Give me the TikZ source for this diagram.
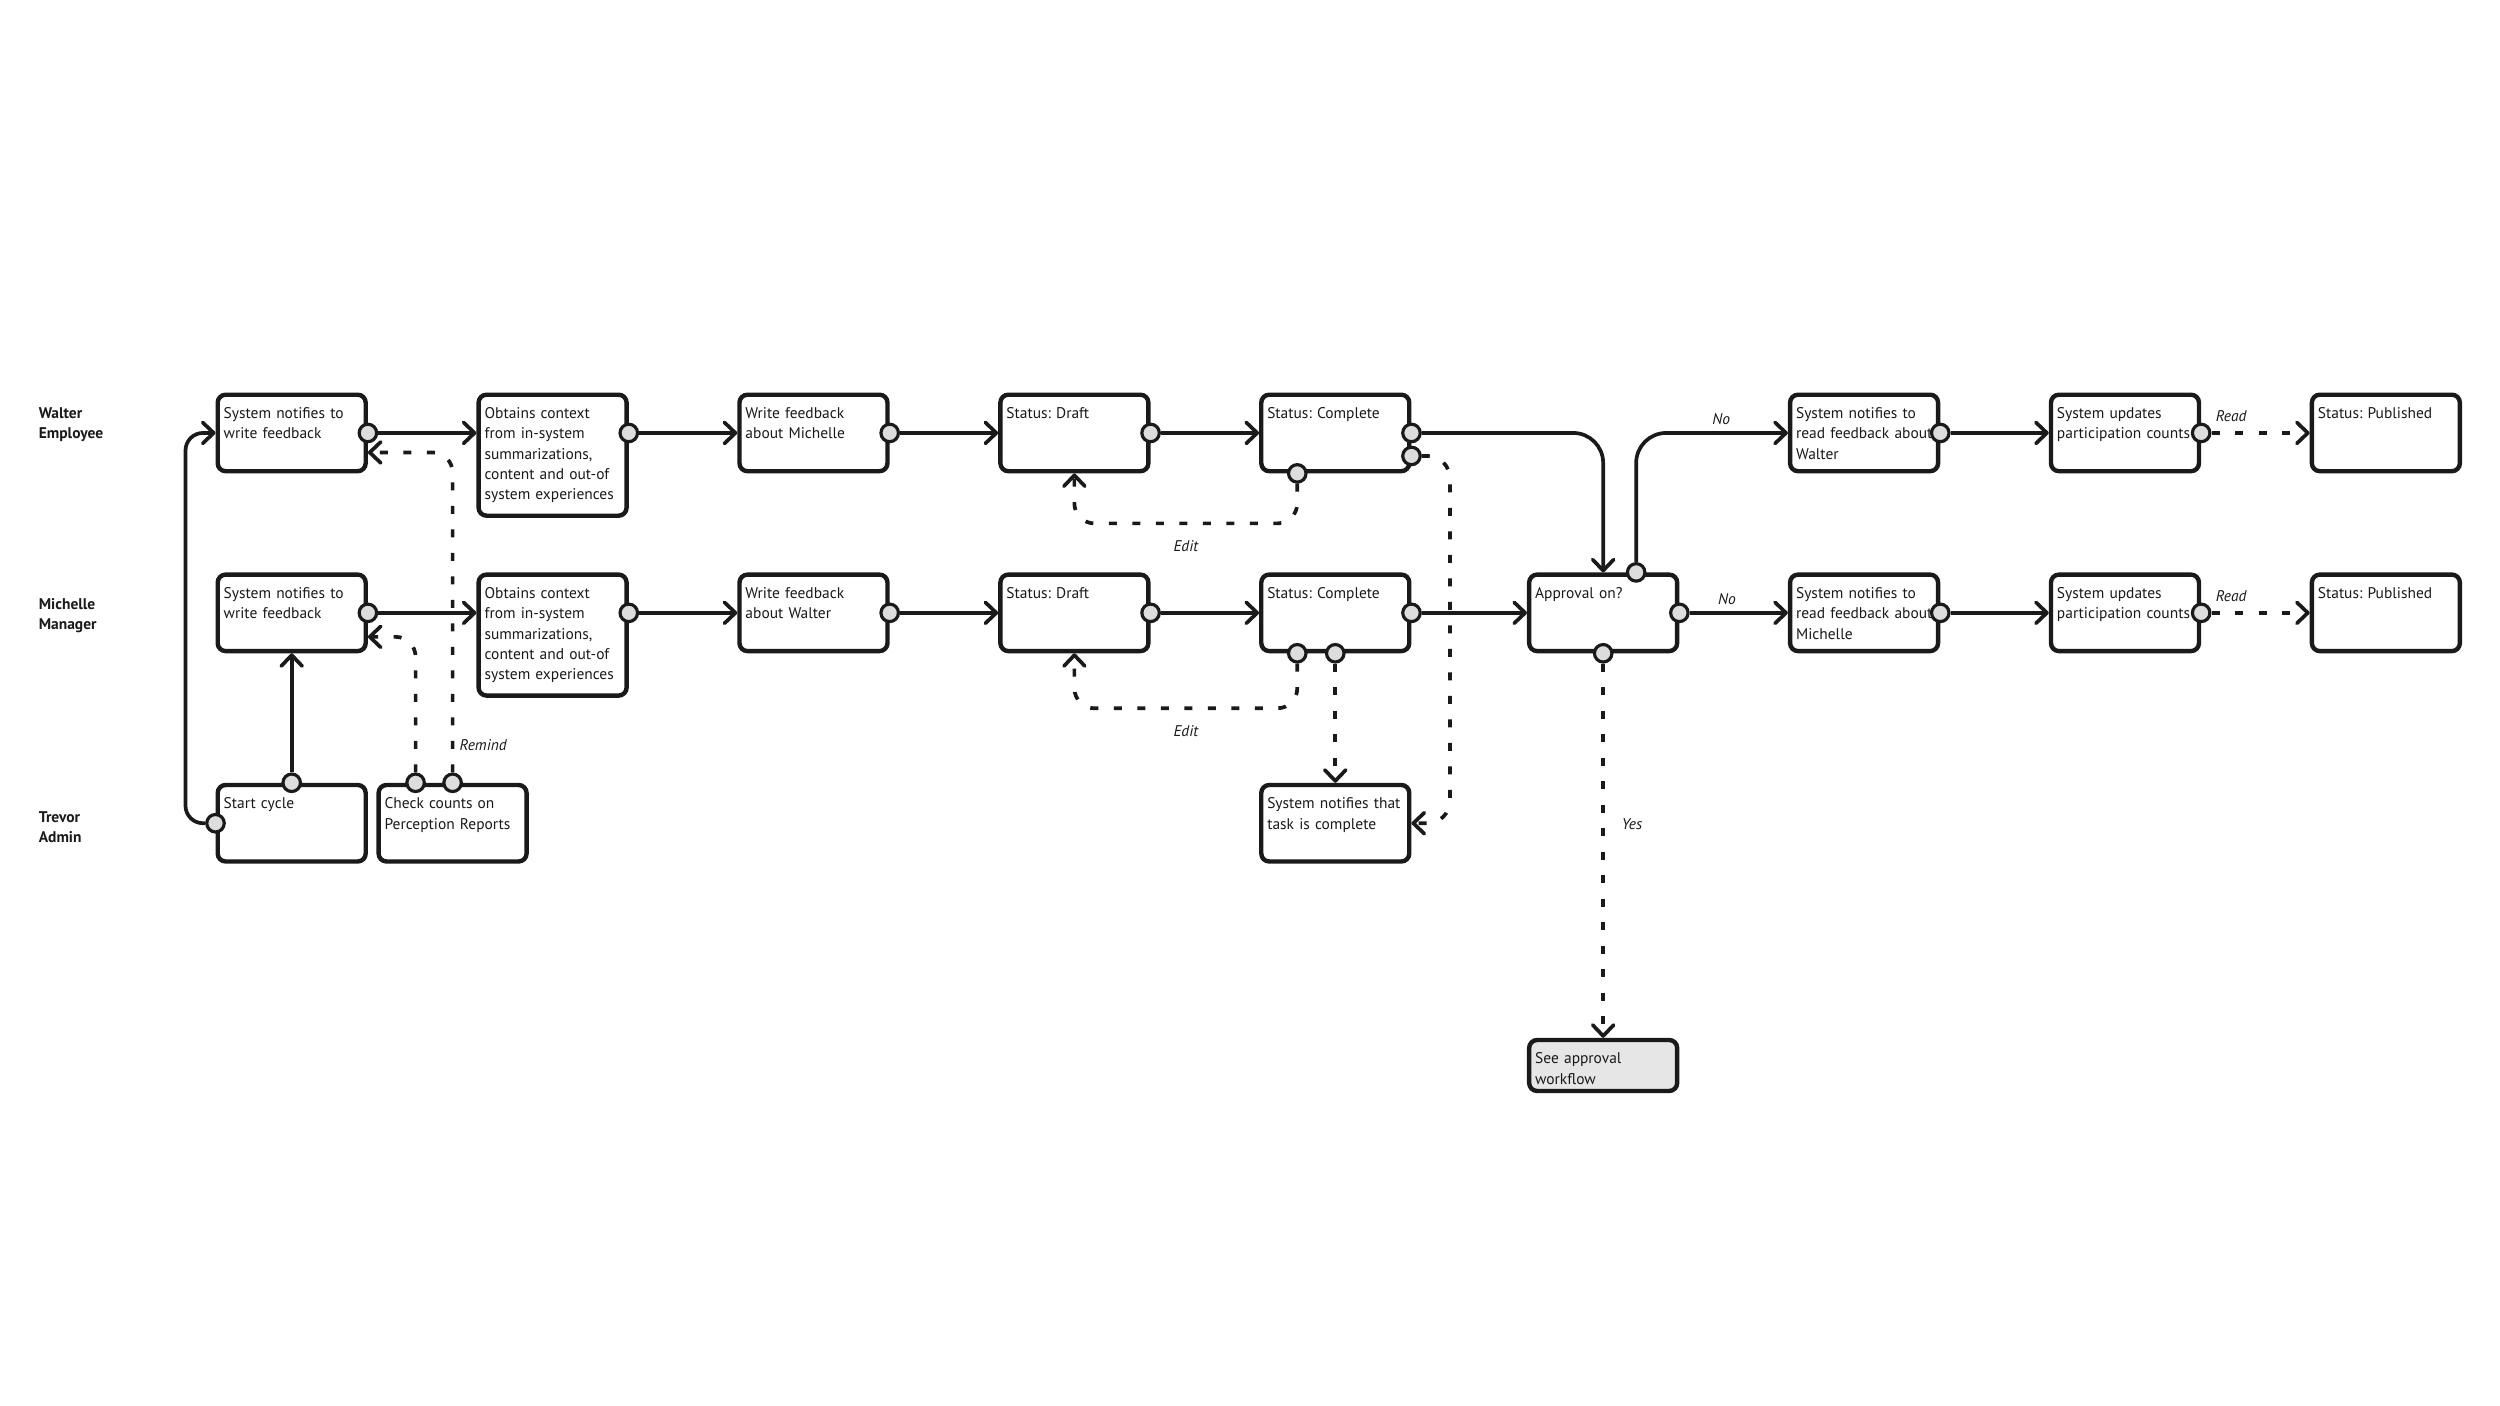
\documentclass[tikz,border=0pt]{standalone}
\usepackage{fontspec}
\setmainfont{PT Sans}
\usetikzlibrary{arrows.meta,positioning}
\definecolor{ink}{HTML}{1A1A1A}
\definecolor{portfill}{HTML}{DDDDDD}
\definecolor{seefill}{HTML}{E6E6E6}
\frenchspacing

\begin{document}
\begin{tikzpicture}[font=\fontsize{8.8pt}{11.5pt}\selectfont,text=ink,
 box/.style={draw=ink,line width=2.5pt,rounded corners=1.6mm,fill=white,text width=27.2mm,inner xsep=1.2mm,inner ysep=1.2mm,align=left,text height=3.6mm,text depth=9.3mm,anchor=north west},
 tallbox/.style={box,text depth=18.2mm},
 seebox/.style={box,fill=seefill,text depth=4.2mm},
 nextto/.style={right=21.7mm of #1.north east,anchor=north west},
 port/.style={circle,draw=ink,line width=1.8pt,fill=portfill,minimum size=3.5mm,inner sep=0pt},
 flow/.style={-{Straight Barb[length=2.2mm,width=4.2mm,round]},line width=2.1pt,draw=ink},
 dflow/.style={flow,dash pattern=on 1.6mm off 3.1mm},
 lbl/.style={font=\fontsize{8.8pt}{11.5pt}\selectfont\itshape,inner sep=1pt},
 lane/.style={font=\fontsize{8.8pt}{11.5pt}\selectfont\bfseries,align=left,anchor=west,inner sep=0pt}]
\path[use as bounding box,fill=white] (0,0) rectangle (50,-28.12);

% lanes
\node[lane] (wlane) at (0.77,-8.5) {Walter\\Employee};
\node[lane] (mlane) at (0.77,-12.32) {Michelle\\Manager};
\node[lane] (tlane) at (0.77,-16.55) {Trevor\\Admin};

% Walter
\node[box] (wnotify) at (4.31,-7.85) {System notifies to\\write feedback};
\node[tallbox,nextto=wnotify] (wobtain) {Obtains context\\from in-system\\summarizations,\\content and out-of\\system experiences};
\node[box,nextto=wobtain] (wwrite) {Write feedback\\about Michelle};
\node[box,nextto=wwrite] (wdraft) {Status: Draft};
\node[box,nextto=wdraft] (wcomplete) {Status: Complete};

% Michelle
\node[box,below=19.8mm of wnotify.south west,anchor=north west] (mnotify) {System notifies to\\write feedback};
\node[tallbox,nextto=mnotify] (mobtain) {Obtains context\\from in-system\\summarizations,\\content and out-of\\system experiences};
\node[box,nextto=mobtain] (mwrite) {Write feedback\\about Walter};
\node[box,nextto=mwrite] (mdraft) {Status: Draft};
\node[box,nextto=mdraft] (mcomplete) {Status: Complete};
\node[box,right=23.1mm of mcomplete.north east,anchor=north west] (approval) {Approval on?};
\node[box,nextto=approval] (mread) {System notifies to\\\mbox{read feedback about}\\Michelle};
\node[box,nextto=mread] (mupdate) {System updates\\\mbox{participation counts}};
\node[box,nextto=mupdate] (mpub) {Status: Published};

\node[box] (wread) at (mread.north west |- wnotify.north west) {System notifies to\\\mbox{read feedback about}\\Walter};
\node[box,nextto=wread] (wupdate) {System updates\\\mbox{participation counts}};
\node[box,nextto=wupdate] (wpub) {Status: Published};

% Trevor
\node[box,below=25.9mm of mnotify.south west,anchor=north west] (start) {Start cycle};
\node[box,right=1.7mm of start.north east,anchor=north west] (check) {Check counts on\\Perception Reports};
\node[box] (ntask) at (mcomplete.north west |- start.north west) {System notifies that\\task is complete};
\node[seebox,below=76.9mm of approval.south west,anchor=north west] (seeapp) {See approval\\workflow};

% ports
\node[port] (pwn) at (wnotify.east) {};
\node[port] (pwo) at (wobtain.east |- wnotify.east) {};
\node[port] (pww) at (wwrite.east) {};
\node[port] (pwd) at (wdraft.east) {};
\node[port] (pwc) at (wcomplete.east) {};
\node[port] (pwc2) at ([yshift=-4.6mm]wcomplete.east) {};
\node[port] (pwcs) at ([xshift=-7.6mm]wcomplete.south) {};
\node[port] (pwr) at (wread.east) {};
\node[port] (pwu) at (wupdate.east) {};
\node[port] (pmn) at (mnotify.east) {};
\node[port] (pmo) at (mobtain.east |- mnotify.east) {};
\node[port] (pmw) at (mwrite.east) {};
\node[port] (pmd) at (mdraft.east) {};
\node[port] (pmc) at (mcomplete.east) {};
\node[port] (pmcs) at ([xshift=-7.6mm]mcomplete.south) {};
\node[port] (pmcs2) at (mcomplete.south) {};
\node[port] (pat) at ([xshift=6.6mm]approval.north) {};
\node[port] (pae) at (approval.east) {};
\node[port] (pas) at (approval.south) {};
\node[port] (pmr) at (mread.east) {};
\node[port] (pmu) at (mupdate.east) {};
\node[port] (pstw) at (start.west) {};
\node[port] (pstn) at (start.north) {};
\node[port] (pck1) at ([xshift=-7.4mm]check.north) {};
\node[port] (pck2) at (check.north) {};

% main flow
\draw[flow] (pwn) -- (wobtain.west |- pwn);
\draw[flow] (pwo) -- (wwrite.west |- pwo);
\draw[flow] (pww) -- (wdraft.west |- pww);
\draw[flow] (pwd) -- (wcomplete.west |- pwd);
\draw[flow] (pmn) -- (mobtain.west |- pmn);
\draw[flow] (pmo) -- (mwrite.west |- pmo);
\draw[flow] (pmw) -- (mdraft.west |- pmw);
\draw[flow] (pmd) -- (mcomplete.west |- pmd);
\draw[flow] (pmc) -- (approval.west |- pmc);
\draw[flow,rounded corners=6mm] (pwc) -| (approval.north);
\draw[flow,rounded corners=6mm] (pat) |- (wread.west) node[lbl,pos=0.78,above=1mm] (wno) {No};
\draw[flow] (pae) -- (mread.west |- pae) node[lbl,pos=0.38,above=1mm] (mno) {No};
\draw[flow] (pwr) -- (wupdate.west |- pwr);
\draw[flow] (pmr) -- (mupdate.west |- pmr);
\draw[dflow] (pwu) -- (wpub.west |- pwu) node[lbl,pos=0.2,above=1.5mm] (wreadlbl) {Read};
\draw[dflow] (pmu) -- (mpub.west |- pmu) node[lbl,pos=0.2,above=1.5mm] (mreadlbl) {Read};
\draw[dflow] (pas) -- (seeapp.north) node[lbl,pos=0.43,right=3mm] (yes) {Yes};

% start and reminders
\draw[flow,rounded corners=3.5mm] (pstw) -| ([xshift=-6mm]wnotify.west) -- (wnotify.west);
\draw[flow] (pstn) -- (mnotify.south);
\draw[dflow,rounded corners=4mm] (pck2) |- ([yshift=-3.9mm]wnotify.east);
\draw[dflow,rounded corners=4mm] (pck1) |- ([yshift=-4.8mm]mnotify.east);
\node[lbl,anchor=west] (remind) at ([xshift=1mm,yshift=7.6mm]pck2) {Remind};

% edits and completion
\draw[dflow,rounded corners=4mm] (pwcs) -- ++(0,-1) -| (wdraft.south) node[lbl,pos=0.25,below=2.8mm] (wedit) {Edit};
\draw[dflow,rounded corners=4mm] (pmcs) -- ++(0,-1.1) -| (mdraft.south) node[lbl,pos=0.25,below=2.8mm] (medit) {Edit};
\draw[dflow] (pmcs2) -- (ntask.north);
\draw[dflow,rounded corners=4.5mm] (pwc2) -| ([xshift=7.7mm]ntask.east) -- (ntask.east);
\end{tikzpicture}
\end{document}
